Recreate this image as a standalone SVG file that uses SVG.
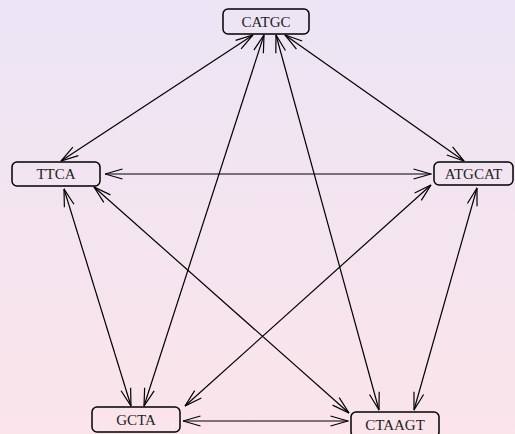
<svg xmlns="http://www.w3.org/2000/svg" width="515" height="434" viewBox="0 0 515 434">
<defs>
<linearGradient id="bg" x1="0" y1="0" x2="0" y2="1">
<stop offset="0" stop-color="#ece5f5"/>
<stop offset="1" stop-color="#fbe4ea"/>
</linearGradient>
<marker id="ah" viewBox="0 0 20 12" refX="19.5" refY="6" markerWidth="20" markerHeight="12" markerUnits="userSpaceOnUse" orient="auto-start-reverse">
<path d="M2,1 L19.5,6 L2,11" fill="none" stroke="#000" stroke-width="1.2"/>
</marker>
<style>
.box{fill:none;stroke:#000;stroke-width:1.5}
.lbl{font-family:"Liberation Serif","Times New Roman",serif;font-size:15px;fill:#222;text-anchor:middle}
.e{fill:none;stroke:#000;stroke-width:1.2;marker-start:url(#ah);marker-end:url(#ah)}
</style>
</defs>
<rect width="515" height="434" fill="url(#bg)"/>
<g id="connectors">
<line class="e" x1="253" y1="35" x2="61" y2="161"/>
<line class="e" x1="285" y1="35" x2="464" y2="161"/>
<line class="e" x1="264" y1="35" x2="144" y2="406"/>
<line class="e" x1="276" y1="35" x2="379" y2="410"/>
<line class="e" x1="105" y1="174" x2="431" y2="174"/>
<line class="e" x1="64" y1="189" x2="131" y2="406"/>
<line class="e" x1="94" y1="187" x2="349" y2="413"/>
<line class="e" x1="431" y1="185" x2="185" y2="406"/>
<line class="e" x1="477" y1="188" x2="414" y2="410"/>
<line class="e" x1="183" y1="421" x2="348" y2="421"/>
</g>
<g id="CATGC">
<rect class="box" x="223" y="9" width="86" height="25" rx="5"/>
<text class="lbl" x="266" y="26.5">CATGC</text>
</g>
<g id="TTCA">
<rect class="box" x="12" y="162" width="88" height="24" rx="5"/>
<text class="lbl" x="56" y="179">TTCA</text>
</g>
<g id="ATGCAT">
<rect class="box" x="434" y="162" width="79" height="23" rx="5"/>
<text class="lbl" x="473.5" y="179">ATGCAT</text>
</g>
<g id="GCTA">
<rect class="box" x="92" y="407" width="88" height="25" rx="5"/>
<text class="lbl" x="136" y="424.5">GCTA</text>
</g>
<g id="CTAAGT">
<rect class="box" x="351" y="412" width="88" height="25" rx="5"/>
<text class="lbl" x="395" y="429.5">CTAAGT</text>
</g>
</svg>
